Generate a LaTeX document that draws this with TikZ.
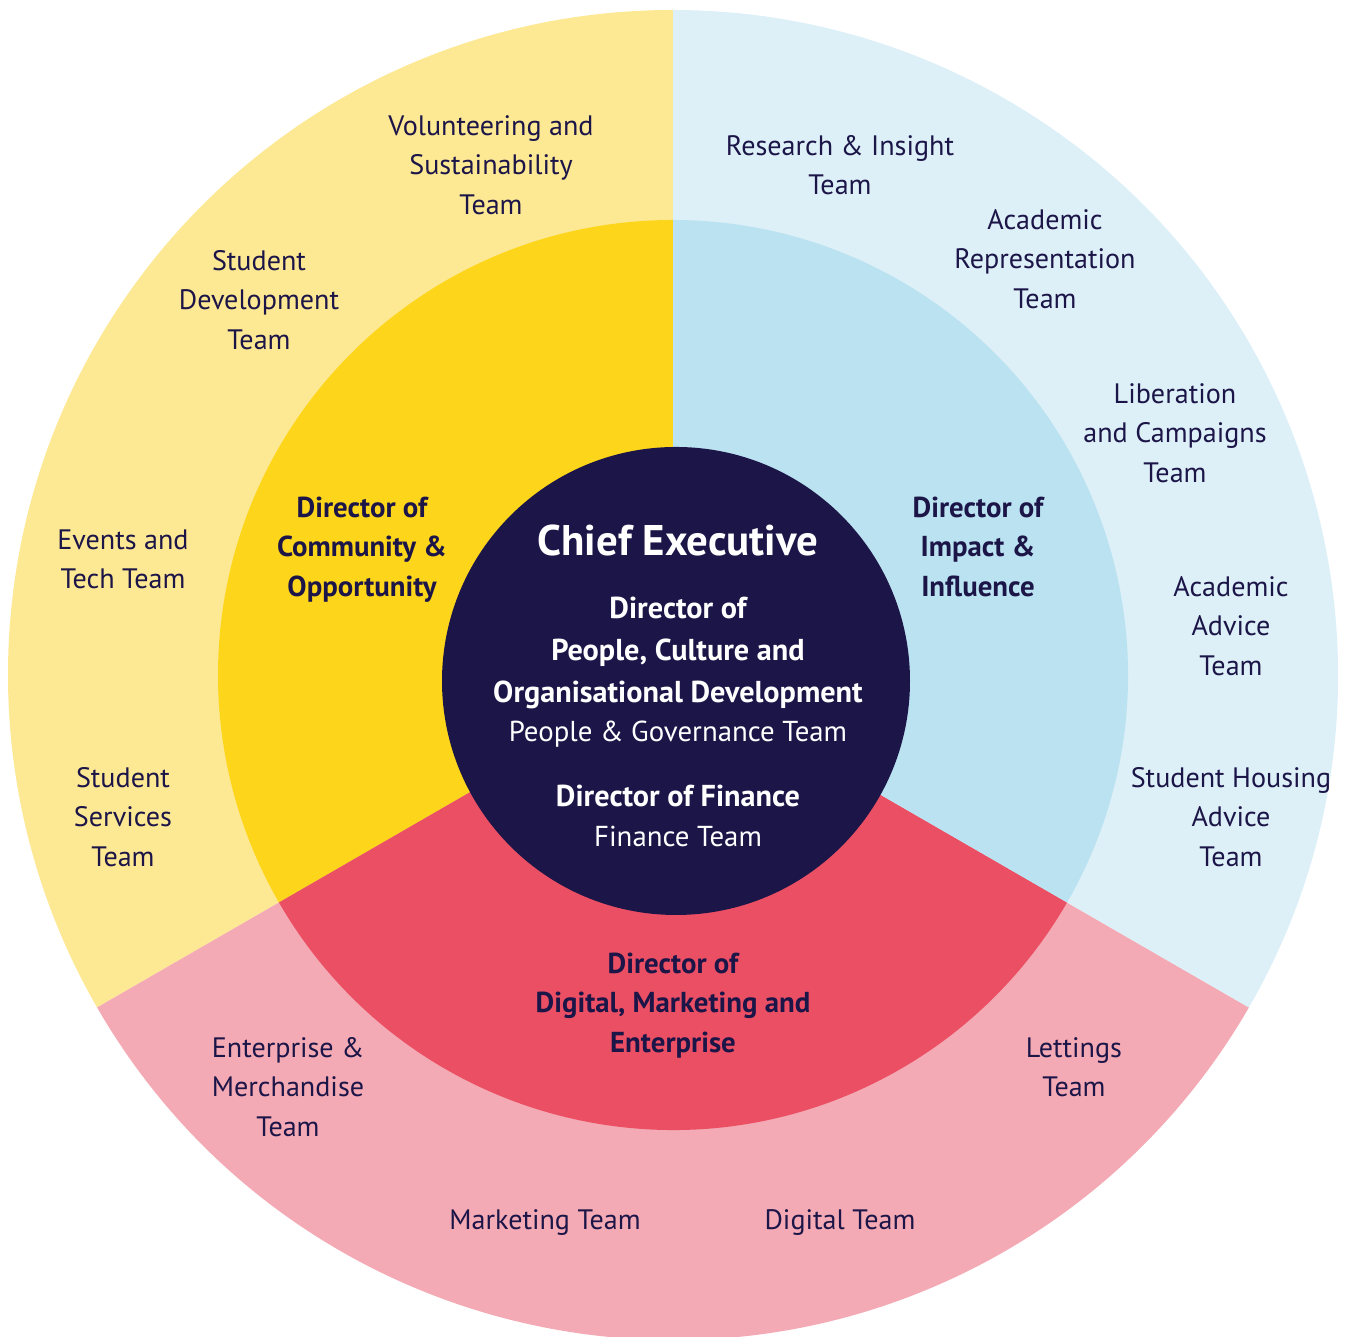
\documentclass[tikz,border=0pt]{standalone}
\usepackage{fontspec}
\setmainfont{PT Sans}
\usepackage{tikz}
\usetikzlibrary{positioning,calc}

\definecolor{navy}{HTML}{1C1548}
\definecolor{yellowout}{HTML}{FDE894}
\definecolor{yellowin}{HTML}{FDD61C}
\definecolor{blueout}{HTML}{DDF0F8}
\definecolor{bluein}{HTML}{BAE2F0}
\definecolor{pinkout}{HTML}{F4AAB4}
\definecolor{redin}{HTML}{EB4F64}

\begin{document}
\begin{tikzpicture}[scale=1.0, every node/.style={scale=1.0},
	team/.style={text=navy, inner sep=0pt, font=\fontsize{8.0}{11.3}\selectfont},
	director/.style={team, font=\fontsize{8.2}{11.3}\selectfont\bfseries},
	ceo/.style={text=white, inner sep=0pt, font=\fontsize{8.2}{12}\selectfont}]

	\useasboundingbox (0,0) rectangle (13.47,13.37);
	\coordinate (O) at (6.73,6.62);
	\coordinate (C) at (6.76,6.56);

	% outer ring
	\fill[yellowout] (O) -- ++(90:6.65) arc[start angle=90, end angle=210, radius=6.65] -- cycle;
	\fill[pinkout] (O) -- ++(210:6.65) arc[start angle=210, end angle=330, radius=6.65] -- cycle;
	\fill[blueout] (O) -- ++(-30:6.65) arc[start angle=-30, end angle=90, radius=6.65] -- cycle;

	% inner ring
	\fill[yellowin] (O) -- ++(90:4.55) arc[start angle=90, end angle=210, radius=4.55] -- cycle;
	\fill[redin] (O) -- ++(210:4.55) arc[start angle=210, end angle=330, radius=4.55] -- cycle;
	\fill[bluein] (O) -- ++(-30:4.55) arc[start angle=-30, end angle=90, radius=4.55] -- cycle;

	\fill[navy] (C) circle[radius=2.34];

	\node[ceo, shift = {(6.78, 7.96)}, font=\fontsize{12.2}{14}\selectfont\bfseries] (chief) {Chief Executive};

	\node[ceo, shift = {(6.78, 6.85)}, font=\fontsize{8.6}{12}\selectfont] (d_people) {
		\begin{tabular}{c}
			\bfseries Director of\\
			\bfseries People, Culture and\\
			\bfseries Organisational Development
		\end{tabular}
	};

	\node[ceo, shift = {(6.78, 6.03)}] (pg_team) {People \& Governance Team};

	\node[ceo, shift = {(6.78, 5.41)}, font=\fontsize{8.6}{12}\selectfont\bfseries] (d_fin) {Director of Finance};

	\node[ceo, shift = {(6.78, 5.01)}] (fin_team) {Finance Team};

	\node[director, shift = {(3.62, 7.88)}] (d_comm) {
		\begin{tabular}{c}
			Director of\\
			Community \&\\
			Opportunity
		\end{tabular}
	};

	\node[director, shift = {(9.78, 7.88)}] (d_impact) {
		\begin{tabular}{c}
			Director of\\
			Impact \&\\
			Influence
		\end{tabular}
	};

	\node[director, shift = {(6.73, 3.32)}] (d_digital) {
		\begin{tabular}{c}
			Director of\\
			Digital, Marketing and\\
			Enterprise
		\end{tabular}
	};

	\node[team, shift = {(4.91, 11.70)}] (vol) {
		\begin{tabular}{c}
			Volunteering and\\
			Sustainability\\
			Team
		\end{tabular}
	};

	\node[team, shift = {(2.59, 10.35)}] (stud_dev) {
		\begin{tabular}{c}
			Student\\
			Development\\
			Team
		\end{tabular}
	};

	\node[team, shift = {(1.23, 7.76)}] (events) {
		\begin{tabular}{c}
			Events and\\
			Tech Team
		\end{tabular}
	};

	\node[team, shift = {(1.23, 5.18)}] (stud_serv) {
		\begin{tabular}{c}
			Student\\
			Services\\
			Team
		\end{tabular}
	};

	\node[team, shift = {(8.40, 11.70)}] (research) {
		\begin{tabular}{c}
			Research \& Insight\\
			Team
		\end{tabular}
	};

	\node[team, shift = {(10.45, 10.76)}] (acad_rep) {
		\begin{tabular}{c}
			Academic\\
			Representation\\
			Team
		\end{tabular}
	};

	\node[team, shift = {(11.75, 9.02)}] (liberation) {
		\begin{tabular}{c}
			Liberation\\
			and Campaigns\\
			Team
		\end{tabular}
	};

	\node[team, shift = {(12.31, 7.09)}] (acad_adv) {
		\begin{tabular}{c}
			Academic\\
			Advice\\
			Team
		\end{tabular}
	};

	\node[team, shift = {(12.31, 5.18)}] (housing) {
		\begin{tabular}{c}
			Student Housing\\
			Advice\\
			Team
		\end{tabular}
	};

	\node[team, shift = {(2.88, 2.48)}] (enterprise) {
		\begin{tabular}{c}
			Enterprise \&\\
			Merchandise\\
			Team
		\end{tabular}
	};

	\node[team, shift = {(10.74, 2.68)}] (lettings) {
		\begin{tabular}{c}
			Lettings\\
			Team
		\end{tabular}
	};

	\node[team, shift = {(5.45, 1.14)}] (marketing) {Marketing Team};

	\node[team, shift = {(8.40, 1.14)}] (digital) {Digital Team};
\end{tikzpicture}
\end{document}
